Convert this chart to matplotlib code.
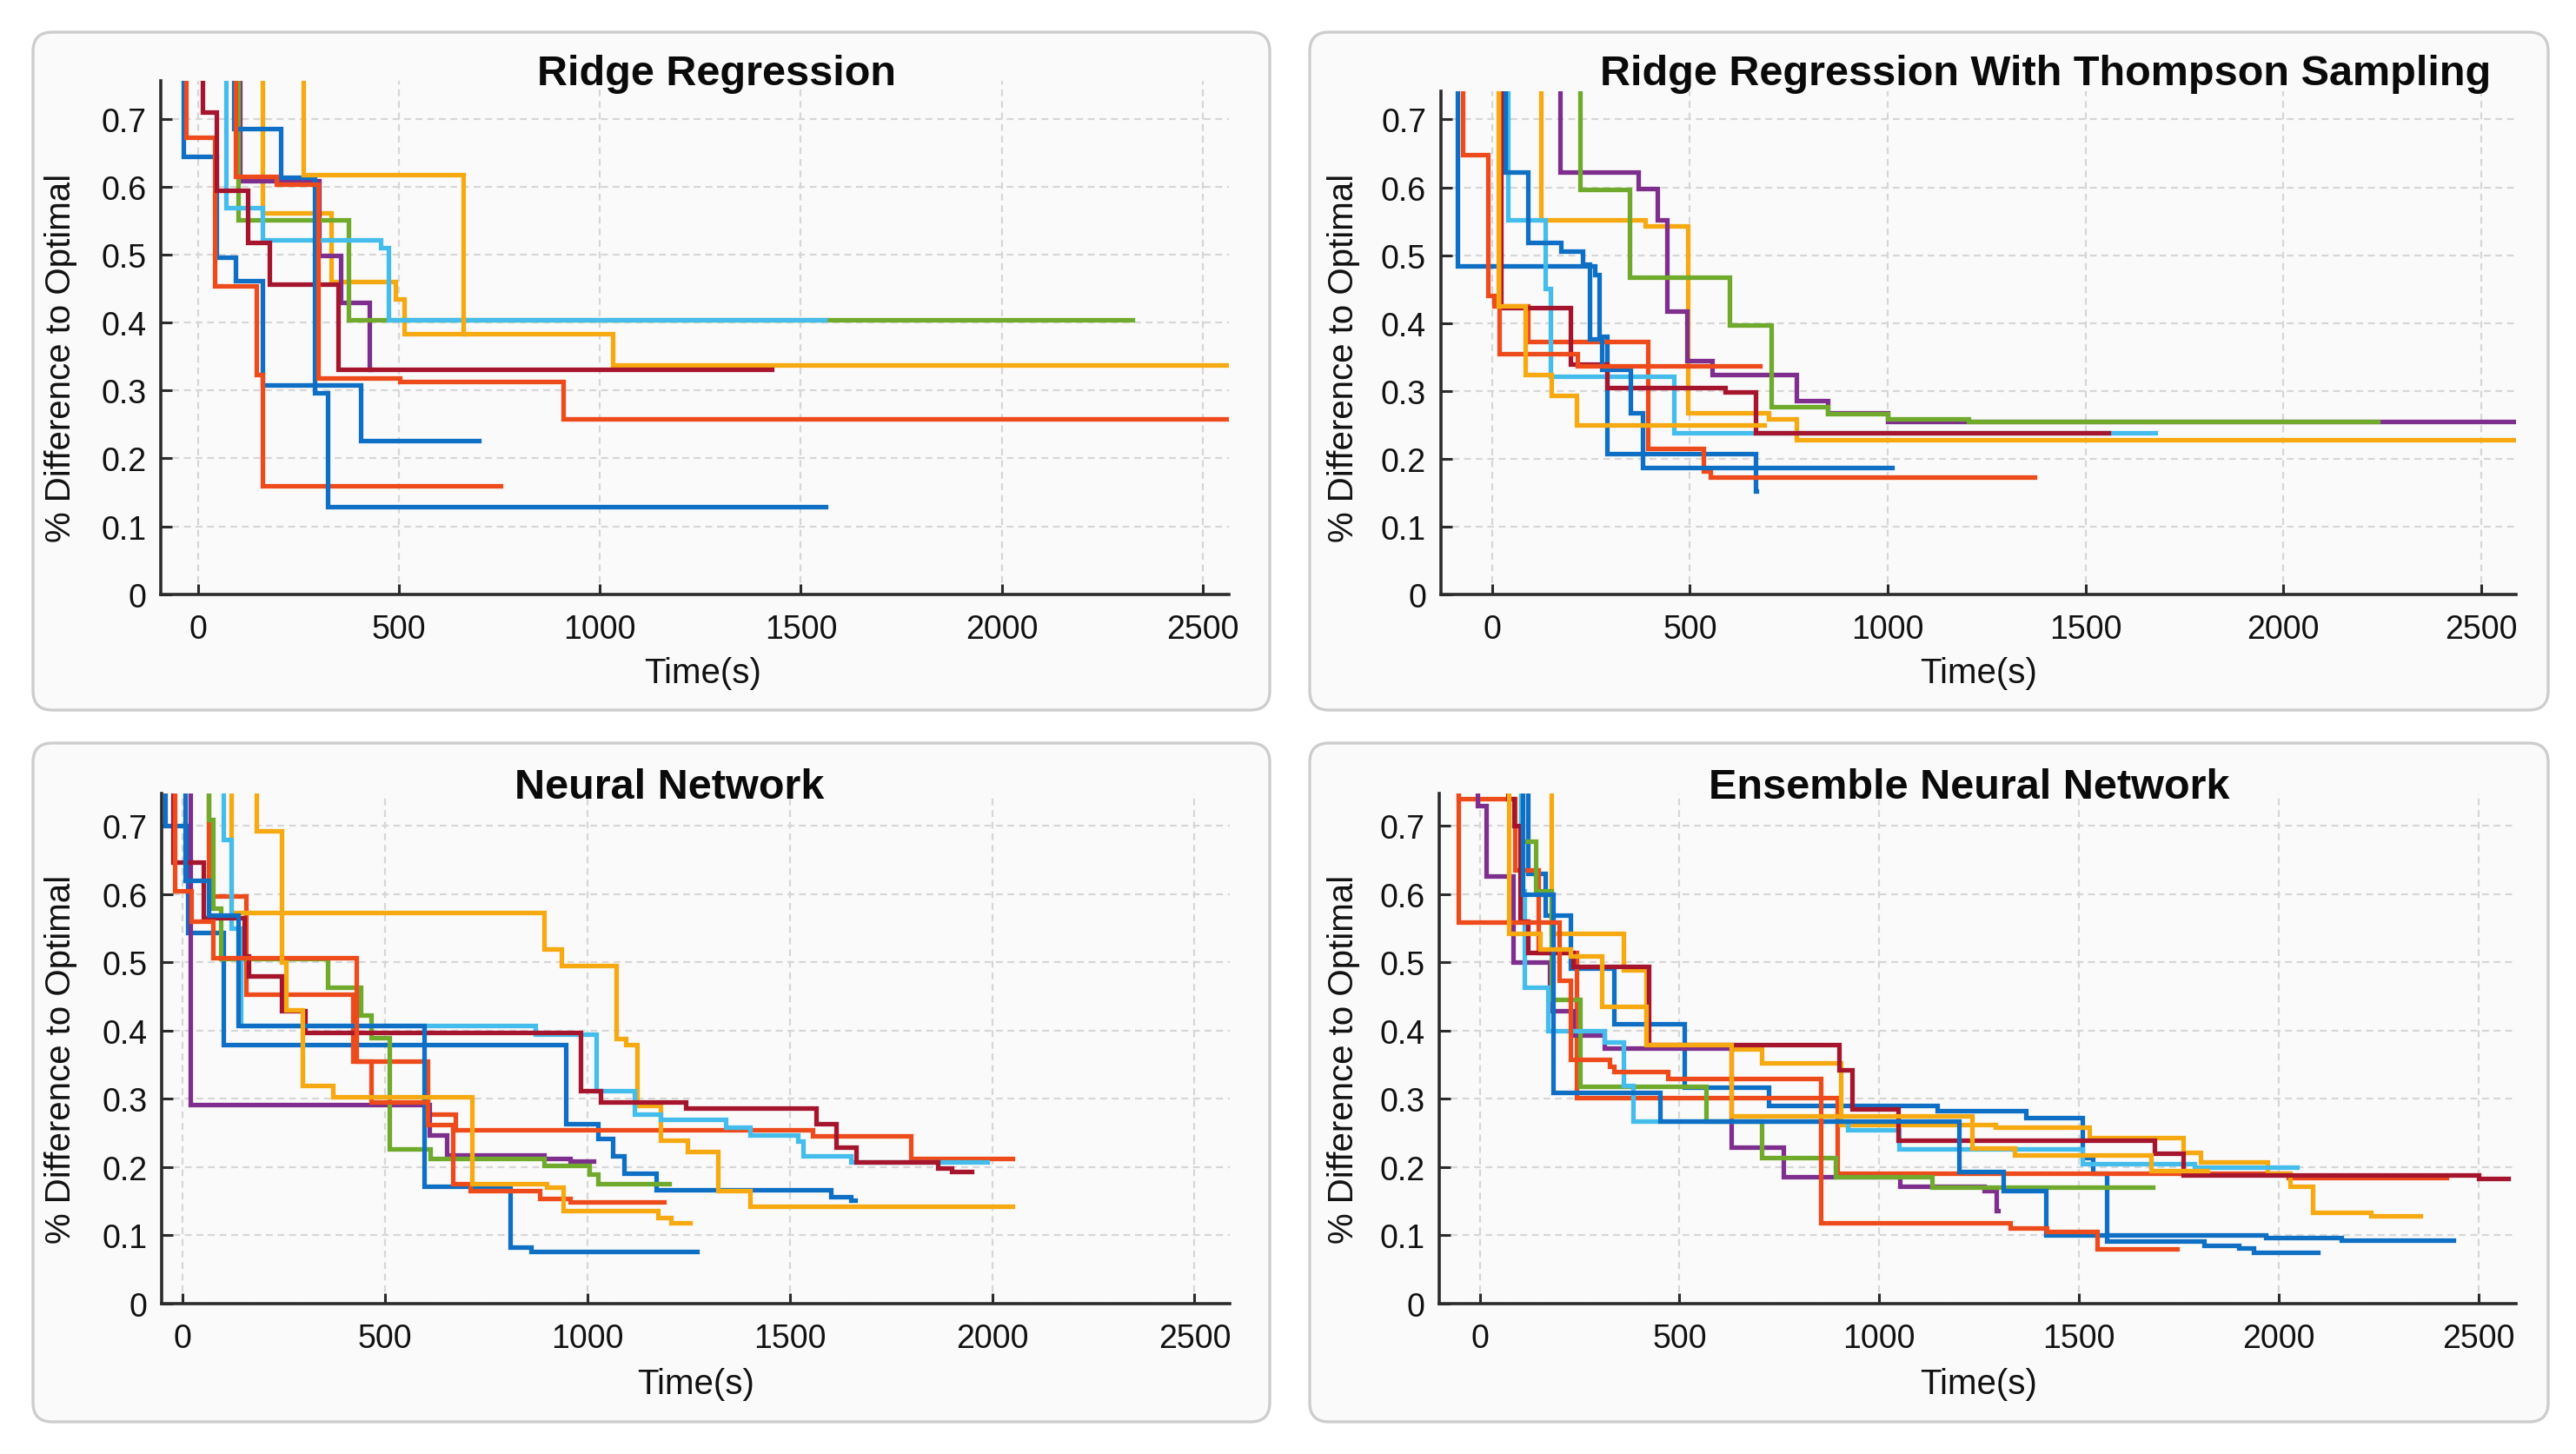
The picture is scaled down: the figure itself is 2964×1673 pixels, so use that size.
import matplotlib
matplotlib.use("Agg")
import matplotlib.pyplot as plt
from matplotlib.patches import FancyBboxPatch
from matplotlib import font_manager
from matplotlib.ticker import FuncFormatter

# ---------------- fonts ----------------
_names = {f.name for f in font_manager.fontManager.ttflist}
FONT = "Liberation Sans" if "Liberation Sans" in _names else "DejaVu Sans"
plt.rcParams["font.family"] = [FONT, "DejaVu Sans"]

# ---------------- data ----------------
# run order follows MATLAB default colour order
run_colors = ["#0E6FC4", "#EE4B1C", "#F6A910", "#7E2F8E", "#6FAA2C",
              "#45BDEC", "#A6152E", "#0E6FC4", "#EE4B1C", "#F6A910"]

xticks = [0, 500, 1000, 1500, 2000, 2500]
yticks = [0, 0.1, 0.2, 0.3, 0.4, 0.5, 0.6, 0.7]

titles = ["Ridge Regression", "Ridge Regression With Thompson Sampling",
          "Neural Network", "Ensemble Neural Network"]

# times (s) at which a new best was found, best value from that time on, and run end time
ridge_times = [
    [-40, -36, 47, 95, 160, 405],
    [-32, -30, 41, 146, 160],
    [158, 160, 332, 492, 514, 1032],
    [100, 105, 302, 355, 427],
    [98, 101, 376],
    [68, 71, 160, 456, 474],
    [10, 12, 47, 124, 178, 350],
    [80, 89, 207, 290, 323],
    [88, 95, 195, 300, 503, 908],
    [252, 262, 660],
]
ridge_values = [
    [0.9, 0.644, 0.496, 0.462, 0.308, 0.226],
    [0.9, 0.672, 0.454, 0.323, 0.159],
    [0.9, 0.561, 0.46, 0.435, 0.383, 0.338],
    [0.9, 0.609, 0.498, 0.43, 0.331],
    [0.9, 0.551, 0.404],
    [0.9, 0.569, 0.521, 0.51, 0.404],
    [0.9, 0.710, 0.594, 0.518, 0.457, 0.331],
    [0.9, 0.685, 0.614, 0.296, 0.129],
    [0.9, 0.615, 0.603, 0.318, 0.313, 0.258],
    [0.9, 0.617, 0.383],
]
ridge_ends = [700, 754, 2600, 432, 2326, 1560, 1428, 1562, 2600, 668]

thompson_times = [
    [-90, -88, 259, 270, 290, 666],
    [-77, -75, -11, 4, 91, 393, 535, 551],
    [121, 123, 387, 495, 698, 770],
    [170, 172, 369, 417, 442, 493, 557, 770, 848, 1000],
    [221, 223, 347, 599, 705, 848, 1000, 1203],
    [38, 40, 135, 147, 460],
    [20, 22, 198, 290, 590, 666],
    [32, 34, 91, 174, 229, 247, 277, 350, 381],
    [16, 18, 216],
    [14, 16, 83, 150, 213],
]
thompson_values = [
    [0.9, 0.484, 0.471, 0.38, 0.207, 0.152],
    [0.9, 0.648, 0.44, 0.425, 0.372, 0.215, 0.182, 0.172],
    [0.9, 0.552, 0.543, 0.268, 0.259, 0.228],
    [0.9, 0.623, 0.598, 0.552, 0.418, 0.344, 0.324, 0.286, 0.268, 0.255],
    [0.9, 0.597, 0.468, 0.397, 0.276, 0.266, 0.258, 0.255],
    [0.9, 0.552, 0.451, 0.321, 0.238],
    [0.9, 0.423, 0.339, 0.304, 0.298, 0.238],
    [0.9, 0.623, 0.519, 0.506, 0.486, 0.377, 0.332, 0.268, 0.187],
    [0.9, 0.354, 0.337],
    [0.9, 0.425, 0.324, 0.293, 0.25],
]
thompson_ends = [668, 1372, 2600, 2600, 2239, 1676, 1558, 1011, 677, 688]

nn_times = [
    [-46, -44, 13, 100, 947, 1026, 1063, 1090, 1169, 1602, 1650],
    [58, 63, 157, 421, 604, 673, 1557, 1800],
    [116, 120, 893, 936, 1070, 1095, 1122, 1180, 1248, 1322, 1402],
    [15, 19, 609, 652, 893, 957],
    [62, 65, 75, 94, 358, 440, 465, 510, 611, 893, 1005, 1026],
    [98, 100, 119, 144, 872, 1021, 1116, 1180, 1341, 1401, 1520, 1533, 1651],
    [-27, -25, 50, 151, 163, 245, 302, 984, 1032, 1243, 1565, 1615, 1663, 1865, 1900],
    [3, 6, 63, 138, 596, 810, 860],
    [-22, -19, 20, 75, 428, 465, 604, 668, 711, 882, 957],
    [178, 182, 245, 255, 295, 371, 714, 900, 941, 1175, 1206],
]
nn_values = [
    [0.9, 0.70, 0.544, 0.379, 0.263, 0.242, 0.217, 0.191, 0.167, 0.157, 0.152],
    [0.9, 0.597, 0.454, 0.355, 0.278, 0.254, 0.246, 0.212],
    [0.9, 0.573, 0.52, 0.496, 0.389, 0.38, 0.29, 0.239, 0.223, 0.166, 0.142],
    [0.9, 0.292, 0.247, 0.218, 0.213, 0.209],
    [0.9, 0.71, 0.58, 0.506, 0.464, 0.423, 0.39, 0.227, 0.212, 0.202, 0.19, 0.176],
    [0.9, 0.68, 0.55, 0.407, 0.395, 0.312, 0.277, 0.27, 0.259, 0.247, 0.238, 0.216, 0.208],
    [0.9, 0.647, 0.565, 0.51, 0.48, 0.429, 0.397, 0.312, 0.295, 0.287, 0.264, 0.229, 0.207, 0.199, 0.193],
    [0.9, 0.62, 0.569, 0.408, 0.172, 0.082, 0.076],
    [0.9, 0.605, 0.56, 0.507, 0.355, 0.295, 0.262, 0.176, 0.166, 0.154, 0.149],
    [0.9, 0.693, 0.5, 0.43, 0.32, 0.303, 0.176, 0.17, 0.136, 0.126, 0.118],
]
nn_ends = [1662, 2050, 2050, 1016, 1201, 1987, 1950, 1270, 1190, 1253]

ens_times = [
    [115, 121, 163, 228, 335, 513, 724, 1146, 1367, 1509, 1535, 1570, 1812, 1900, 1936],
    [-57, -53, 87, 146, 243, 894, 2024],
    [176, 180, 359, 417, 630, 706, 903, 1290, 1526, 1760, 1804, 1971, 2028, 2085, 2231],
    [-8, -5, 15, 83, 175, 233, 311, 630, 760, 1052, 1263, 1293],
    [99, 102, 141, 180, 252, 567, 706, 890, 1133],
    [98, 102, 112, 170, 311, 359, 383, 922, 1050, 1509, 1790],
    [68, 70, 85, 100, 120, 233, 422, 899, 931, 1048, 1689, 1760, 2500],
    [104, 107, 184, 451, 1200, 1310, 1416, 1967, 2156],
    [-55, -53, 199, 228, 325, 335, 471, 853, 1327, 1420, 1545],
    [70, 73, 150, 228, 306, 417, 630, 1232, 1339, 1680],
]
ens_values = [
    [0.9, 0.63, 0.569, 0.491, 0.41, 0.317, 0.29, 0.282, 0.273, 0.214, 0.191, 0.092, 0.085, 0.081, 0.075],
    [0.9, 0.74, 0.635, 0.514, 0.302, 0.191, 0.185],
    [0.9, 0.543, 0.489, 0.38, 0.373, 0.353, 0.262, 0.259, 0.243, 0.222, 0.208, 0.191, 0.172, 0.134, 0.129],
    [0.9, 0.73, 0.627, 0.5, 0.429, 0.393, 0.375, 0.229, 0.186, 0.172, 0.166, 0.136],
    [0.9, 0.678, 0.605, 0.446, 0.318, 0.267, 0.214, 0.186, 0.171],
    [0.9, 0.605, 0.463, 0.40, 0.383, 0.32, 0.267, 0.254, 0.227, 0.205, 0.2],
    [0.9, 0.74, 0.70, 0.56, 0.515, 0.494, 0.38, 0.343, 0.285, 0.239, 0.22, 0.188, 0.183],
    [0.9, 0.6, 0.31, 0.267, 0.194, 0.165, 0.101, 0.097, 0.093],
    [0.9, 0.559, 0.474, 0.358, 0.348, 0.34, 0.33, 0.118, 0.11, 0.106, 0.08],
    [0.9, 0.542, 0.52, 0.509, 0.436, 0.38, 0.275, 0.228, 0.218, 0.195],
]
ens_ends = [2099, 2420, 2354, 1298, 1685, 2046, 2575, 2437, 1746, 1821]

panel_times = [ridge_times, thompson_times, nn_times, ens_times]
panel_values = [ridge_values, thompson_values, nn_values, ens_values]
panel_ends = [ridge_ends, thompson_ends, nn_ends, ens_ends]

# ---------------- layout (pixels of the 2964x1674 canvas) ----------------
W, H, DPI = 2964, 1674, 200
fig = plt.figure(figsize=(W / DPI, H / DPI), dpi=DPI, facecolor="white")

boxes = [(38, 38, 1461, 818), (1507, 38, 2932, 818),
         (38, 856, 1461, 1637), (1507, 856, 2932, 1637)]
axes_px = [(185, 93.8, 1414, 684.7), (1657.7, 105.7, 2895, 684.7),
           (186, 913.8, 1415, 1500.8), (1656.2, 913.8, 2895, 1500.8)]
xlims = [(-92, 2565), (-130, 2588), (-52, 2587), (-101, 2594)]
ytops = [0.756, 0.742, 0.748, 0.748]
title_px = [(824, 85), (2354, 85), (770, 907), (2266, 907)]
xlabel_px = [(809, 775), (2277, 775), (801, 1593), (2277, 1593)]
ylabel_px = [(70, 412), (1546, 412), (70, 1219), (1546, 1219)]

SPINE = "#2b2b2b"
GRID = "#d6d6d6"

# background panel boxes, drawn underneath the axes
bg = fig.add_axes([0, 0, 1, 1], zorder=-10)
bg.set_axis_off()
for (x0, y0, x1, y1) in boxes:
    patch = FancyBboxPatch((x0 / DPI, (H - y1) / DPI), (x1 - x0) / DPI, (y1 - y0) / DPI,
                           boxstyle="round,pad=0,rounding_size=0.11",
                           transform=fig.dpi_scale_trans, facecolor="#fafafa",
                           edgecolor="#cdcdcd", linewidth=1.2)
    bg.add_patch(patch)

yfmt = FuncFormatter(lambda v, p: "0" if abs(v) < 1e-9 else f"{v:.1f}")

for i in range(4):
    l, t, r, b = axes_px[i]
    ax = fig.add_axes([l / W, 1 - b / H, (r - l) / W, (b - t) / H], zorder=1)
    ax.set_facecolor("none")
    for k in range(len(panel_times[i])):
        ts = panel_times[i][k] + [panel_ends[i][k]]
        vs = panel_values[i][k] + [panel_values[i][k][-1]]
        ax.plot(ts, vs, drawstyle="steps-post", color=run_colors[k],
                linewidth=1.9, solid_joinstyle="miter", zorder=3)
    ax.set_xlim(*xlims[i])
    ax.set_ylim(0, ytops[i])
    ax.set_xticks(xticks)
    ax.set_yticks(yticks)
    ax.yaxis.set_major_formatter(yfmt)
    ax.grid(True, color=GRID, linestyle=(0, (3.5, 2.5)), linewidth=0.8, zorder=1)
    ax.set_axisbelow(True)
    for s in ("top", "right"):
        ax.spines[s].set_visible(False)
    for s in ("left", "bottom"):
        ax.spines[s].set_color(SPINE)
        ax.spines[s].set_linewidth(1.3)
    ax.tick_params(axis="both", direction="in", length=4.5, width=1.1,
                   color=SPINE, labelsize=13.5, labelcolor="#111111")
    ax.tick_params(axis="x", pad=8)
    ax.tick_params(axis="y", pad=6)

    ax.set_xlabel("Time(s)", fontsize=14.5, color="#111111")
    ax.xaxis.label.set_va("center")
    ax.xaxis.set_label_coords(xlabel_px[i][0] / W, 1 - xlabel_px[i][1] / H,
                              transform=fig.transFigure)
    ax.set_ylabel("% Difference to Optimal", fontsize=14.5, color="#111111")
    ax.yaxis.label.set_va("center")
    ax.yaxis.set_label_coords(ylabel_px[i][0] / W, 1 - ylabel_px[i][1] / H,
                              transform=fig.transFigure)

    fig.text(title_px[i][0] / W, 1 - title_px[i][1] / H, titles[i],
             ha="center", va="center", fontsize=17.5, fontweight="bold",
             color="#0a0a0a", zorder=5)

fig.savefig("out.png", dpi=DPI, facecolor="white")
